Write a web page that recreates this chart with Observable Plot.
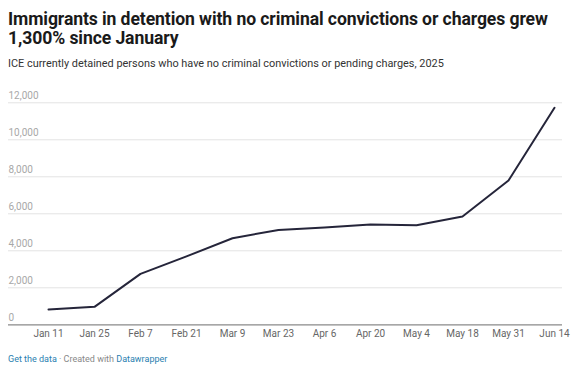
<!DOCTYPE html>
<html>
<head>
<meta charset="utf-8">
<script src="https://cdn.jsdelivr.net/npm/d3@7"></script>
<script src="https://cdn.jsdelivr.net/npm/@observablehq/plot@0.6"></script>
<style>
  html, body { margin: 0; padding: 0; background: #fff; }
  body { width: 573px; height: 369px; overflow: hidden; font-family: Roboto, sans-serif; position: relative; }
  #title { position: absolute; left: 8px; top: 9.5px; white-space: nowrap; font-size: 17.6px; font-weight: 700; line-height: 19.3px; color: #1a1a1a; letter-spacing: -0.1px; }
  #subtitle { position: absolute; left: 8px; top: 56.5px; white-space: nowrap; font-size: 10.9px; color: #333; }
  #chart { position: absolute; left: 0; top: 80px; }
  #footer { position: absolute; left: 8px; top: 354px; font-size: 9px; color: #888; }
  #footer a { color: #2a80b0; text-decoration: none; }
</style>
</head>
<body>
<div id="title">Immigrants in detention with no criminal convictions or charges grew<br>1,300% since January</div>
<div id="subtitle">ICE currently detained persons who have no criminal convictions or pending charges, 2025</div>
<div id="chart"></div>
<div id="footer"><a>Get the data</a> · Created with <a>Datawrapper</a></div>
<script>
const dates = ["Jan 11","Jan 25","Feb 7","Feb 21","Mar 9","Mar 23","Apr 6","Apr 20","May 4","May 18","May 31","Jun 14"];
const detained = [830, 970, 2750, 3700, 4680, 5130, 5260, 5420, 5380, 5850, 7800, 11730];
const yTicks = [0, 2000, 4000, 6000, 8000, 10000, 12000];

const data = dates.map((d, i) => ({date: d, value: detained[i]}));
const fmt = d3.format(",");

const chart = Plot.plot({
  width: 573,
  height: 270,
  marginLeft: 47.7,
  marginRight: 19,
  marginTop: 22.3,
  marginBottom: 25.7,
  style: {fontFamily: "Roboto, sans-serif", background: "transparent"},
  x: {type: "point", domain: dates, padding: 0, label: null, axis: null},
  y: {domain: [0, 12000], axis: null},
  marks: [
    Plot.ruleY(yTicks.filter(d => d > 0), {stroke: "#e3e3e3", strokeWidth: 1, insetLeft: -39.7, insetRight: -8}),
    Plot.ruleY([0], {stroke: "#8a8a8a", strokeWidth: 1.3, insetLeft: -39.7, insetRight: -8}),
    Plot.text(yTicks, {y: d => d, text: d => fmt(d), frameAnchor: "left", textAnchor: "start", dx: -39.7, dy: -7, fill: "#a8a8a8", fontSize: 10}),
    Plot.text(dates, {x: d => d, text: d => d, frameAnchor: "bottom", dy: 12, fill: "#666", fontSize: 10}),
    Plot.line(data, {x: "date", y: "value", stroke: "#25253a", strokeWidth: 2, strokeLinejoin: "round"})
  ]
});
document.getElementById("chart").appendChild(chart);
</script>
</body>
</html>
